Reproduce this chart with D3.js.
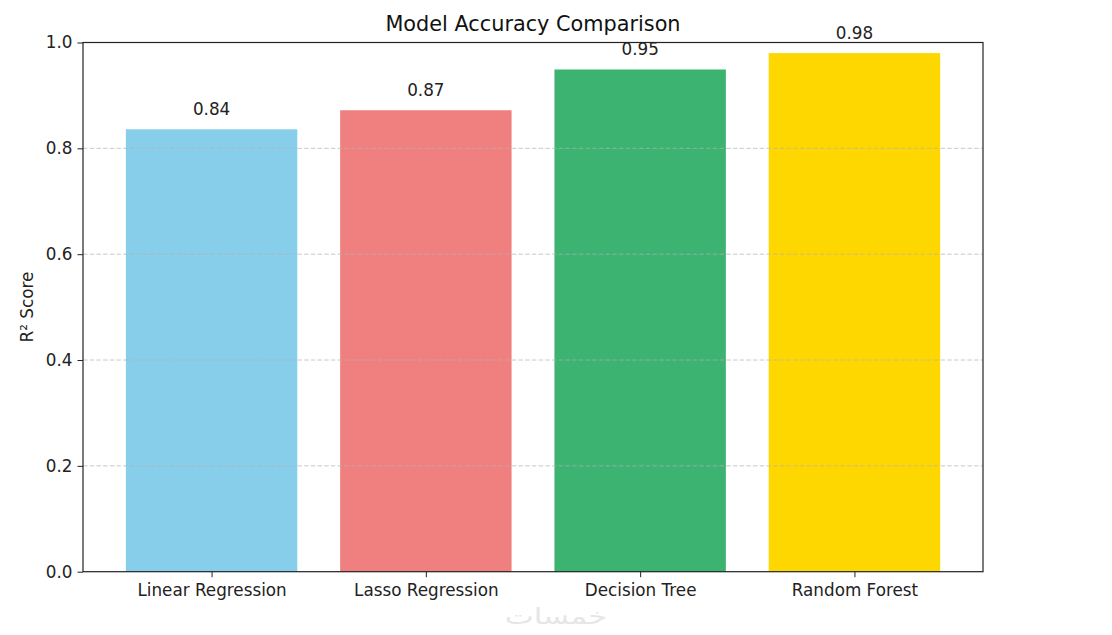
<!DOCTYPE html>
<html>
<head>
<meta charset="utf-8">
<script src="https://cdn.jsdelivr.net/npm/d3@7"></script>
<style>
  html, body { margin: 0; padding: 0; background: #fff; }
  svg { display: block; font-family: "DejaVu Sans", sans-serif; }
</style>
</head>
<body>
<svg id="chart" width="1112" height="635"></svg>
<script>
const categories = ["Linear Regression", "Lasso Regression", "Decision Tree", "Random Forest"];
const scores = [0.836, 0.872, 0.949, 0.980];
const barLabels = ["0.84", "0.87", "0.95", "0.98"];
const colors = ["#87CEEB", "#F08080", "#3CB371", "#FFD700"];
const yTicks = [0.0, 0.2, 0.4, 0.6, 0.8, 1.0];

const svg = d3.select("#chart");
const m = { left: 83, right: 983, top: 42.5, bottom: 571.7 };
const fs = 16.8;

const x = d3.scaleLinear().domain([-0.6, categories.length - 1 + 0.6]).range([m.left, m.right]);
const y = d3.scaleLinear().domain([0, 1]).range([m.bottom, m.top]);
const bw = x(0.8) - x(0);

// bars
svg.append("g").selectAll("rect").data(scores).join("rect")
  .attr("x", (d, i) => x(i) - bw / 2)
  .attr("y", d => y(d))
  .attr("width", bw)
  .attr("height", d => y(0) - y(d))
  .attr("fill", (d, i) => colors[i]);

// grid (drawn over bars)
svg.append("g").selectAll("line").data(yTicks.filter(t => t > 0 && t < 1)).join("line")
  .attr("x1", m.left).attr("x2", m.right)
  .attr("y1", d => y(d)).attr("y2", d => y(d))
  .attr("stroke", "#b0b0b0").attr("stroke-opacity", 0.7)
  .attr("stroke-width", 1).attr("stroke-dasharray", "4.5,2.2");

// value labels
svg.append("g").selectAll("text").data(scores).join("text")
  .attr("x", (d, i) => x(i))
  .attr("y", d => y(d + 0.02) - 3.5)
  .attr("text-anchor", "middle")
  .attr("font-size", fs)
  .attr("fill", "#222")
  .text((d, i) => barLabels[i]);

// frame
svg.append("rect")
  .attr("x", m.left).attr("y", m.top)
  .attr("width", m.right - m.left).attr("height", m.bottom - m.top)
  .attr("fill", "none").attr("stroke", "#222").attr("stroke-width", 1.2);

// y axis
const yAxis = svg.append("g").attr("transform", `translate(${m.left},0)`)
  .call(d3.axisLeft(y).tickValues(yTicks).tickFormat(d3.format(".1f")).tickSize(5.5).tickPadding(5));
yAxis.select(".domain").remove();
yAxis.selectAll("line").attr("stroke", "#222");
yAxis.selectAll("text").attr("font-size", fs).attr("fill", "#222").attr("font-family", "DejaVu Sans");

// x axis
const xAxis = svg.append("g").attr("transform", `translate(0,${m.bottom})`)
  .call(d3.axisBottom(x).tickValues(d3.range(categories.length)).tickFormat(i => categories[i]).tickSize(5.5).tickPadding(7));
xAxis.select(".domain").remove();
xAxis.selectAll("line").attr("stroke", "#222");
xAxis.selectAll("text").attr("font-size", fs).attr("fill", "#222").attr("font-family", "DejaVu Sans");

// title
svg.append("text")
  .attr("x", (m.left + m.right) / 2).attr("y", 31)
  .attr("text-anchor", "middle").attr("font-size", 20.8).attr("fill", "#111")
  .text("Model Accuracy Comparison");

// y label
svg.append("text")
  .attr("transform", `translate(33,${(m.top + m.bottom) / 2}) rotate(-90)`)
  .attr("text-anchor", "middle").attr("font-size", fs).attr("fill", "#222")
  .text("R² Score");

// watermark
svg.append("text")
  .attr("transform", "translate(556,624) scale(1.4,1)")
  .attr("text-anchor", "middle").attr("font-size", 22)
  .attr("font-family", "Noto Sans, DejaVu Sans").attr("fill", "#e6e6e6")
  .text("خمسات");
</script>
</body>
</html>
